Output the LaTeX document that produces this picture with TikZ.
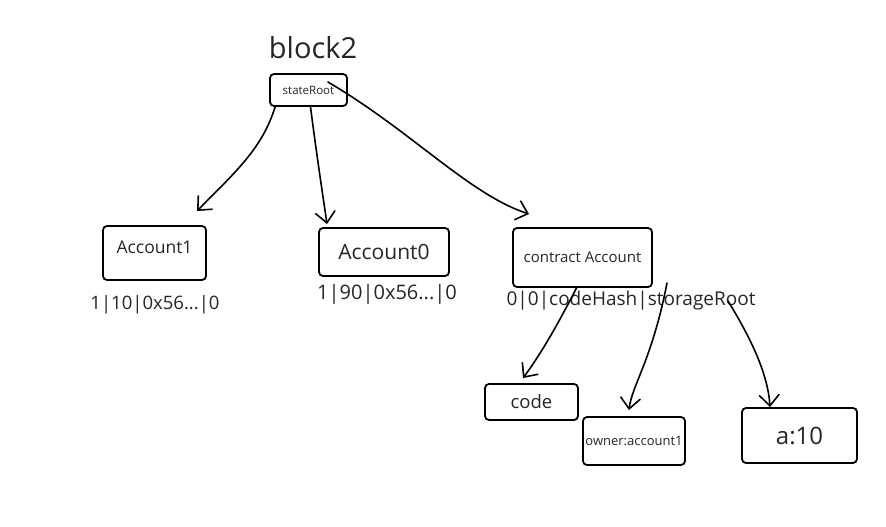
\documentclass[tikz,border=0pt]{standalone}
\usepackage{fontspec}
\setmainfont{Open Sans}
\usetikzlibrary{arrows.meta}
\begin{document}
\begin{tikzpicture}[x=1pt,y=-1pt,
  box/.style={draw=black,line width=1.8pt,rounded corners=4pt,inner sep=0pt,text=black!85},
  lbl/.style={inner sep=0pt,text=black!85},
  arr/.style={line width=1.6pt,line cap=round,-{Straight Barb[length=11pt,width=20pt,line width=1.6pt]}}]
\useasboundingbox[fill=white] (0,0) rectangle (886,527);
% titles and boxes
\node[lbl,font=\fontsize{29}{31}\selectfont] (b2) at (313,48) {block2};
\node[box,minimum width=77pt,minimum height=32pt,font=\fontsize{11.5}{13}\selectfont] (sr) at (308.5,90) {stateRoot};
\node[box,minimum width=103pt,minimum height=54pt,text depth=12pt,font=\fontsize{17.5}{19}\selectfont] (acc1) at (154.5,253) {Account1};
\node[box,minimum width=130pt,minimum height=48pt,font=\fontsize{21}{23}\selectfont] (acc0) at (384,252) {Account0};
\node[box,minimum width=139pt,minimum height=59pt,font=\fontsize{15}{17}\selectfont] (ca) at (582.5,257.5) {contract Account};
\node[lbl,font=\fontsize{18.5}{20}\selectfont] (acc1v) at (155,305) {1|10|0x56...|0};
\node[lbl,font=\fontsize{20}{22}\selectfont] (acc0v) at (387,294) {1|90|0x56...|0};
\node[lbl,font=\fontsize{19}{21}\selectfont] (cav) at (631,301) {0|0|codeHash|storageRoot};
\node[box,minimum width=93pt,minimum height=36pt,font=\fontsize{18.5}{20}\selectfont] (code) at (531.5,402) {code};
\node[box,minimum width=102pt,minimum height=48pt,font=\fontsize{13}{15}\selectfont] (owner) at (634,441) {owner:account1};
\node[box,minimum width=115pt,minimum height=55pt,font=\fontsize{24}{26}\selectfont] (a10) at (799.5,435.5) {a:10};
% arrow tips (free ends)
\coordinate (t1) at (197,211);
\coordinate (t2) at (327,224);
\coordinate (t3) at (529,214);
\coordinate (t4) at (523,378);
\coordinate (t5) at (629,410);
\coordinate (t6) at (770,407);
% connectors
\draw[arr] ([xshift=6pt]sr.south west) .. controls (262,150) and (232,175) .. (t1);
\draw[arr] ([xshift=2pt]sr.south) .. controls (316,150) and (322,190) .. (t2);
\draw[arr] ([xshift=-20pt,yshift=8pt]sr.east) .. controls (410,130) and (470,195) .. (t3);
\draw[arr] ([xshift=-54pt,yshift=14pt]cav.center) .. controls (555,330) and (538,358) .. (t4);
\draw[arr] ([xshift=36pt,yshift=18pt]cav.center) .. controls (652,360) and (632,385) .. (t5);
\draw[arr] ([xshift=97pt]cav.center) .. controls (752,340) and (768,375) .. (t6);
\end{tikzpicture}
\end{document}
